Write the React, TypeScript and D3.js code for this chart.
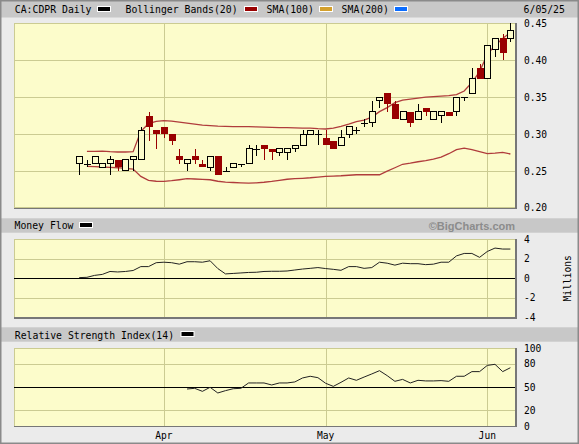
import * as d3 from 'd3'

// trading days shown (Mar 17 .. Jun 5, 2025)
const dates = [
  '2025-03-17', '2025-03-18', '2025-03-19', '2025-03-20', '2025-03-21', '2025-03-24', '2025-03-25',
  '2025-03-26', '2025-03-27', '2025-03-28', '2025-03-31',
  '2025-04-01', '2025-04-02', '2025-04-03', '2025-04-04', '2025-04-07', '2025-04-08', '2025-04-09',
  '2025-04-10', '2025-04-11', '2025-04-14', '2025-04-15', '2025-04-16', '2025-04-17', '2025-04-21',
  '2025-04-22', '2025-04-23', '2025-04-24', '2025-04-25', '2025-04-28', '2025-04-29', '2025-04-30',
  '2025-05-01', '2025-05-02', '2025-05-05', '2025-05-06', '2025-05-07', '2025-05-08', '2025-05-09',
  '2025-05-12', '2025-05-13', '2025-05-14', '2025-05-15', '2025-05-16', '2025-05-20', '2025-05-21',
  '2025-05-22', '2025-05-23', '2025-05-26', '2025-05-27', '2025-05-28', '2025-05-29', '2025-05-30',
  '2025-06-02', '2025-06-03', '2025-06-04', '2025-06-05'
]

const open = [
  0.26, 0.26, 0.26, 0.255, 0.26, 0.265, 0.25, 0.265, 0.265, 0.325, 0.305,
  0.31, 0.30, 0.27, 0.26, 0.27, 0.26, 0.255, 0.27, 0.25, 0.255, 0.26, 0.26, 0.28, 0.285,
  0.28, 0.275, 0.275, 0.28, 0.285, 0.30, 0.30,
  0.295, 0.29, 0.285, 0.30, 0.305, 0.315, 0.315, 0.345, 0.355, 0.34, 0.32, 0.33, 0.32,
  0.335, 0.32, 0.325, 0.33, 0.33, 0.35, 0.355, 0.39,
  0.375, 0.415, 0.43, 0.43
]
const high = [
  0.27, 0.265, 0.27, 0.26, 0.27, 0.265, 0.265, 0.27, 0.31, 0.33, 0.305,
  0.31, 0.30, 0.28, 0.265, 0.28, 0.265, 0.27, 0.27, 0.255, 0.26, 0.26, 0.285, 0.285, 0.285,
  0.28, 0.28, 0.28, 0.285, 0.305, 0.305, 0.305,
  0.305, 0.29, 0.305, 0.31, 0.31, 0.32, 0.345, 0.35, 0.355, 0.345, 0.33, 0.33, 0.34,
  0.335, 0.33, 0.33, 0.33, 0.35, 0.35, 0.39, 0.395,
  0.42, 0.43, 0.435, 0.45
]
const low = [
  0.245, 0.255, 0.26, 0.255, 0.245, 0.25, 0.25, 0.25, 0.265, 0.29, 0.28,
  0.295, 0.285, 0.26, 0.25, 0.26, 0.255, 0.25, 0.245, 0.25, 0.255, 0.255, 0.26, 0.27, 0.265,
  0.265, 0.27, 0.265, 0.275, 0.285, 0.30, 0.285,
  0.285, 0.28, 0.285, 0.295, 0.30, 0.31, 0.31, 0.335, 0.33, 0.32, 0.32, 0.31, 0.32,
  0.325, 0.32, 0.315, 0.325, 0.325, 0.345, 0.355, 0.375,
  0.375, 0.405, 0.40, 0.425
]
const close = [
  0.27, 0.26, 0.27, 0.26, 0.265, 0.255, 0.265, 0.27, 0.305, 0.31, 0.30,
  0.30, 0.29, 0.265, 0.265, 0.265, 0.255, 0.27, 0.245, 0.25, 0.26, 0.26, 0.28, 0.28, 0.28,
  0.275, 0.28, 0.28, 0.285, 0.30, 0.305, 0.30,
  0.285, 0.28, 0.295, 0.31, 0.305, 0.315, 0.33, 0.35, 0.34, 0.32, 0.33, 0.315, 0.33,
  0.33, 0.33, 0.33, 0.325, 0.35, 0.35, 0.375, 0.375,
  0.42, 0.43, 0.41, 0.44
]

// Bollinger bands(20), first day has none
const bbUpper = [
  null, 0.2764, 0.2764, 0.2767, 0.276, 0.2756, 0.2756, 0.276, 0.3036, 0.314, 0.3172,
  0.3181, 0.3174, 0.3161, 0.3147, 0.3134, 0.312, 0.3113, 0.3106, 0.3104, 0.31, 0.31, 0.31, 0.3096, 0.3093,
  0.309, 0.3086, 0.3086, 0.3082, 0.3079, 0.3079, 0.3072,
  0.3068, 0.3079, 0.3104, 0.3134, 0.3168, 0.3188, 0.3229, 0.3303, 0.3358, 0.3425, 0.3459, 0.3473, 0.3487,
  0.35, 0.3507, 0.3514, 0.352, 0.3534, 0.3582, 0.3697, 0.3846,
  0.4077, 0.42, 0.4294, 0.4376
]
const bbLower = [
  null, 0.2561, 0.2557, 0.2553, 0.2547, 0.2543, 0.2534, 0.2525, 0.2425, 0.2371, 0.236,
  0.2357, 0.2367, 0.238, 0.2394, 0.239, 0.2384, 0.238, 0.236, 0.2349, 0.2343, 0.2339, 0.2335, 0.2339, 0.2346,
  0.2357, 0.2373, 0.2387, 0.2394, 0.24, 0.2407, 0.2417,
  0.2425, 0.243, 0.2434, 0.2441, 0.2448, 0.2448, 0.2448, 0.2448, 0.2496, 0.2543, 0.259, 0.2604, 0.2624,
  0.2638, 0.2658, 0.2688, 0.2733, 0.2787, 0.2808, 0.2787, 0.2760,
  0.2733, 0.274, 0.2751, 0.2729
]

// Money flow, millions
const moneyFlow = [
  0.07, 0.1, 0.3, 0.4, 0.7, 0.65, 0.7, 0.8, 1.2, 1.2, 1.6,
  1.65, 1.6, 1.45, 1.7, 1.7, 1.65, 1.8, 1.0, 0.45, 0.5, 0.55, 0.6, 0.62, 0.7,
  0.72, 0.72, 0.75, 0.85, 0.95, 1.02, 1.1,
  1.0, 0.92, 0.82, 1.2, 1.2, 1.02, 1.1, 1.65, 1.55, 1.35, 1.55, 1.5, 1.5,
  1.4, 1.45, 1.65, 1.65, 2.3, 2.55, 2.55, 2.15,
  2.75, 3.1, 3.0, 3.0
]

// RSI(14), starts on the 15th day
const rsi = [
  null, null, null, null, null, null, null, null, null, null, null,
  null, null, null, 47.6, 48.5, 44.6, 49.8, 42.5, 45.5, 48, 48.5, 55.4, 55.4, 55.4,
  52.8, 55.4, 55.4, 56.7, 61.8, 64, 62.2,
  55, 51, 56.2, 61.8, 58.8, 63, 67, 71.2, 64.8, 57.5, 60, 55.4, 58.8,
  58, 58, 58.4, 57.5, 64, 64, 70, 70,
  78, 79.4, 70, 75
]

const priceTicks = [0.20, 0.25, 0.30, 0.35, 0.40, 0.45]
const flowTicks = [4, 2, 0, -2, -4]
const rsiTicks = [100, 80, 50, 20, 0]
const monthNames = ['Jan', 'Feb', 'Mar', 'Apr', 'May', 'Jun', 'Jul', 'Aug', 'Sep', 'Oct', 'Nov', 'Dec']

const W = 579
const H = 444
const mono = '"DejaVu Sans Mono", monospace'
const bg = '#ebebeb'
const band = '#c8c8c8'
const plotFill = '#fcfccb'
const grid = '#cbcb92'
const downCol = '#990000'
const bbCol = '#b03c3c'

const left = 14
const right = 515.7

const x = d3.scaleLinear().domain([-8.47, 56.69]).range([left, right])

const main = { top: 23.3, bottom: 207.8 }
const flow = { top: 239.3, bottom: 317.3 }
const rsiP = { top: 348.3, bottom: 426 }

const yPrice = d3.scaleLinear().domain([0.2, 0.45]).range([main.bottom, main.top])
const yFlow = d3.scaleLinear().domain([-4, 4]).range([flow.bottom, flow.top])
const yRsi = d3.scaleLinear().domain([0, 100]).range([rsiP.bottom, rsiP.top])

// first trading day of each month -> vertical grid + label
const monthStarts = dates
  .map((d, i) => ({ d, i }))
  .filter((o, i) => i > 0 && o.d.slice(5, 7) !== dates[i - 1].slice(5, 7))

const Swatch = ({ x0, y0, color }: { x0: number, y0: number, color: string }) => (
  <g>
    <rect x={x0 - 1} y={y0 - 1} width={14} height={6} fill="#ffffff" />
    <rect x={x0} y={y0} width={12} height={4} fill={color} />
  </g>
)

const Panel = ({ top, bottom }: { top: number, bottom: number }) => (
  <g shapeRendering="crispEdges">
    <rect x={left} y={top} width={right - left} height={bottom - top} fill={plotFill} stroke={grid} />
    {monthStarts.map(m => (
      <line key={m.d} x1={Math.round(x(m.i)) + 0.5} x2={Math.round(x(m.i)) + 0.5} y1={top} y2={bottom} stroke={grid} />
    ))}
  </g>
)

const PanelEdge = ({ top, bottom }: { top: number, bottom: number }) => (
  <g shapeRendering="crispEdges">
    <line x1={left} x2={right + 1} y1={bottom + 0.5} y2={bottom + 0.5} stroke="#777" strokeWidth={1.5} />
    <line x1={right + 0.5} x2={right + 0.5} y1={top} y2={bottom + 1} stroke="#777" strokeWidth={1.5} />
  </g>
)

const App = () => {
  const bbLine = d3.line<number | null>()
    .defined(d => d !== null)
    .x((_, i) => x(i))
    .y(d => yPrice(d as number))

  const flowLine = d3.line<number>()
    .x((_, i) => x(i))
    .y(d => yFlow(d))

  const rsiLine = d3.line<number | null>()
    .defined(d => d !== null)
    .x((_, i) => x(i))
    .y(d => yRsi(d as number))

  const candles = dates.map((d, i) => {
    const cx = Math.round(x(i)) + 0.5
    const o = open[i]
    const c = close[i]
    const yh = yPrice(high[i])
    const yl = yPrice(low[i])
    if (c < o) {
      const yt = yPrice(o)
      const yb = yPrice(c)
      return (
        <g key={d}>
          <line x1={cx} x2={cx} y1={yh} y2={yl} stroke={downCol} />
          <rect x={cx - 3.5} y={yt} width={7} height={Math.max(1, yb - yt)} fill={downCol} />
        </g>
      )
    }
    if (c === o) {
      const yc = Math.round(yPrice(c)) + 0.5
      return (
        <g key={d}>
          <line x1={cx} x2={cx} y1={yh} y2={yl} stroke="#000" />
          <line x1={cx - 3.5} x2={cx + 3.5} y1={yc} y2={yc} stroke="#000" />
        </g>
      )
    }
    const yt = yPrice(c)
    const yb = yPrice(o)
    return (
      <g key={d}>
        <line x1={cx} x2={cx} y1={yh} y2={yl} stroke="#000" />
        <rect x={cx - 3} y={yt} width={6} height={yb - yt} fill={plotFill} stroke="#000" />
      </g>
    )
  })

  return (
    <svg width={W} height={H} style={{ position: 'absolute', left: 0, top: 0 }} fontFamily={mono}>
      <rect x={0} y={0} width={W} height={H} fill={bg} />

      {/* header bands */}
      <rect x={1} y={0} width={W - 2} height={17.5} fill={band} />
      <rect x={1} y={218.3} width={W - 2} height={14.4} fill={band} />
      <rect x={1} y={327.3} width={W - 2} height={14.4} fill={band} />

      <g fontSize={9.8} fill="#000">
        <text x={14.8} y={12.5}>CA:CDPR Daily</text>
        <Swatch x0={98} y0={7} color="#000" />
        <text x={125.5} y={12.5}>Bollinger Bands(20)</text>
        <Swatch x0={245} y0={7} color="#990000" />
        <text x={266.6} y={12.5}>SMA(100)</text>
        <Swatch x0={320} y0={7} color="#d4a02c" />
        <text x={341.6} y={12.5}>SMA(200)</text>
        <Swatch x0={395} y0={7} color="#0a6cff" />
        <text x={523.6} y={12.5}>6/05/25</text>

        <text x={14.5} y={229.3}>Money Flow</text>
        <Swatch x0={80} y0={223} color="#000" />
        <text x={14.8} y={338.5}>Relative Strength Index(14)</text>
        <Swatch x0={181.5} y0={332} color="#000" />
      </g>
      <text x={515} y={229.8} textAnchor="end" fontFamily='"Liberation Sans", Arial, sans-serif'
        fontWeight="bold" fontSize={11} fill="#8c8c8c">©BigCharts.com</text>

      {/* main price panel */}
      <Panel top={main.top} bottom={main.bottom} />
      <g shapeRendering="crispEdges">
        {priceTicks.slice(1, -1).map(t => (
          <line key={t} x1={left} x2={right} y1={Math.round(yPrice(t)) + 0.5} y2={Math.round(yPrice(t)) + 0.5} stroke={grid} />
        ))}
      </g>
      <path d={bbLine(bbUpper) ?? ''} fill="none" stroke={bbCol} strokeWidth={1.3} />
      <path d={bbLine(bbLower) ?? ''} fill="none" stroke={bbCol} strokeWidth={1.3} />
      <g shapeRendering="crispEdges">{candles}</g>
      <PanelEdge top={main.top} bottom={main.bottom} />
      <g fontSize={9.6} fill="#000">
        {priceTicks.map(t => (
          <text key={t} x={524} y={yPrice(t) + 3.6}>{t.toFixed(2)}</text>
        ))}
      </g>

      {/* money flow panel */}
      <Panel top={flow.top} bottom={flow.bottom} />
      <g shapeRendering="crispEdges">
        {flowTicks.filter(t => Math.abs(t) === 2).map(t => (
          <line key={t} x1={left} x2={right} y1={Math.round(yFlow(t)) + 0.5} y2={Math.round(yFlow(t)) + 0.5} stroke={grid} />
        ))}
        <line x1={left} x2={right} y1={Math.round(yFlow(0)) + 0.5} y2={Math.round(yFlow(0)) + 0.5} stroke="#000" />
      </g>
      <path d={flowLine(moneyFlow) ?? ''} fill="none" stroke="#222" strokeWidth={1} />
      <PanelEdge top={flow.top} bottom={flow.bottom} />
      <g fontSize={9.6} fill="#000">
        {flowTicks.map(t => (
          <text key={t} x={524} y={yFlow(t) + 3.6}>{t}</text>
        ))}
      </g>
      <text transform={`translate(571,${yFlow(0)}) rotate(-90)`} textAnchor="middle" fontSize={9.6} fill="#000">Millions</text>

      {/* RSI panel */}
      <Panel top={rsiP.top} bottom={rsiP.bottom} />
      <g shapeRendering="crispEdges">
        {[80, 20].map(t => (
          <line key={t} x1={left} x2={right} y1={Math.round(yRsi(t)) + 0.5} y2={Math.round(yRsi(t)) + 0.5} stroke={grid} />
        ))}
        <line x1={left} x2={right} y1={Math.round(yRsi(50)) + 0.5} y2={Math.round(yRsi(50)) + 0.5} stroke="#000" />
      </g>
      <path d={rsiLine(rsi) ?? ''} fill="none" stroke="#222" strokeWidth={1} />
      <PanelEdge top={rsiP.top} bottom={rsiP.bottom} />
      <g fontSize={9.6} fill="#000">
        {rsiTicks.map(t => (
          <text key={t} x={524} y={yRsi(t) + 3.6}>{t}</text>
        ))}
        {monthStarts.map(m => (
          <text key={m.d} x={x(m.i)} y={438.8} textAnchor="middle">{monthNames[+m.d.slice(5, 7) - 1]}</text>
        ))}
      </g>

      {/* outer frame */}
      <rect x={0.75} y={0.75} width={W - 1.5} height={H - 1.5} fill="none" stroke="#8a8a8a" strokeWidth={1.5} />
    </svg>
  )
}

export default App
